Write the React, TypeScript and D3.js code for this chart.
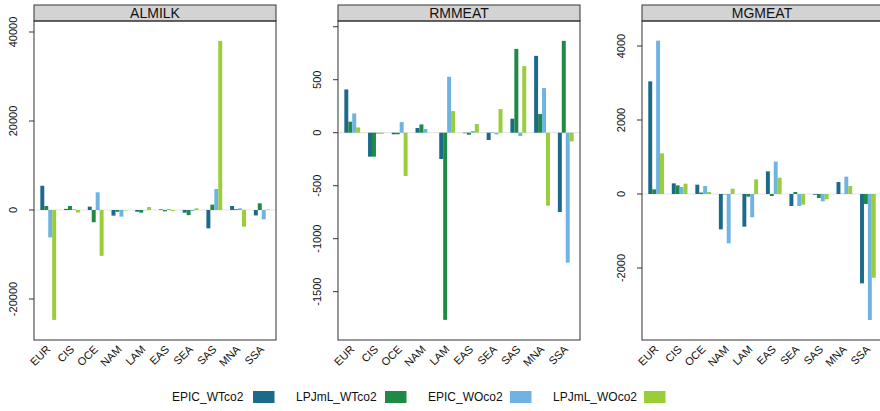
import React from "react";
import * as d3 from "d3";

const regions = ["EUR", "CIS", "OCE", "NAM", "LAM", "EAS", "SEA", "SAS", "MNA", "SSA"];
const seriesNames = ["EPIC_WTco2", "LPJmL_WTco2", "EPIC_WOco2", "LPJmL_WOco2"];
const seriesColors = ["#1b6a8b", "#1e8a45", "#6eb3e2", "#9acd3a"];
const panelNames = ["ALMILK", "RMMEAT", "MGMEAT"];

// values per region: [EPIC_WTco2, LPJmL_WTco2, EPIC_WOco2, LPJmL_WOco2]
const almilk = [
  [5450, 900, -6150, -24700],
  [250, 900, 150, -550],
  [750, -2750, 3970, -10300],
  [-1270, -400, -1500, -100],
  [-380, -600, -50, 670],
  [150, -300, 200, -250],
  [-600, -1150, -250, 380],
  [-4120, 1200, 4720, 38000],
  [900, 180, 380, -3750],
  [-1220, 1500, -2100, 100],
];
const rmmeat = [
  [408, 104, 182, 50],
  [-226, -226, -10, -10],
  [-15, -15, 100, -408],
  [44, 78, 35, 0],
  [-248, -1766, 528, 204],
  [-5, -19, 16, 82],
  [-69, 3, -16, 223],
  [132, 791, -31, 628],
  [725, 176, 421, -688],
  [-748, 867, -1226, -82],
];
const mgmeat = [
  [3045, 126, 4145, 1100],
  [288, 234, 190, 280],
  [252, 40, 216, 54],
  [-955, -10, -1333, 144],
  [-883, -72, -630, 396],
  [612, -54, 874, 441],
  [-324, 54, -324, -288],
  [-20, -108, -198, -144],
  [324, 5, 468, 216],
  [-2415, -270, -3406, -2262],
];
const panelData = [almilk, rmmeat, mgmeat];
const panelTicks = [
  [-20000, 0, 20000, 40000],
  [-1500, -1000, -500, 0, 500, 1000],
  [-2000, 0, 2000, 4000],
];
const hiddenTickLabels = [[], [1000], []];
const panelDomains: [number, number][] = [
  [-29213, 42470],
  [-1956, 1054],
  [-3946, 4676],
];
const panelX: [number, number][] = [
  [34, 276],
  [338, 580],
  [642, 882],
];

const PLOT_TOP = 21;
const PLOT_BOTTOM = 340;
const STRIP_TOP = 5;
const FONT = "Liberation Sans, Arial, Helvetica, sans-serif";

function Panel({ idx }: { idx: number }) {
  const [x0, x1] = panelX[idx];
  const W = x1 - x0;
  const step = W / (regions.length + 0.2);
  const groupW = (step * 2) / 3;
  const barW = groupW / seriesNames.length;
  const y = d3.scaleLinear().domain(panelDomains[idx]).range([PLOT_BOTTOM, PLOT_TOP]);
  const data = panelData[idx];
  const cx = (i: number) => x0 + (0.6 + i) * step;
  const sub = d3
    .scaleBand<number>()
    .domain(d3.range(seriesNames.length))
    .range([-groupW / 2, groupW / 2])
    .padding(0);
  return (
    <g>
      <defs>
        <clipPath id={`clip${idx}`}>
          <rect x={x0} y={PLOT_TOP} width={W} height={PLOT_BOTTOM - PLOT_TOP} />
        </clipPath>
      </defs>
      {/* strip */}
      <rect x={x0} y={STRIP_TOP} width={W} height={PLOT_TOP - STRIP_TOP} fill="#d3d3d3" stroke="#333" strokeWidth={1} />
      <text x={x0 + W / 2} y={PLOT_TOP - 3} textAnchor="middle" fontFamily={FONT} fontSize={14} fill="#111">
        {panelNames[idx]}
      </text>
      <g clipPath={`url(#clip${idx})`}>
        <line x1={x0} x2={x1} y1={y(0)} y2={y(0)} stroke="#e6e6e6" strokeWidth={1.2} />
        {data.map((vals, i) =>
          vals.map((v, s) => (
            <rect
              key={`${i}-${s}`}
              x={cx(i) + (sub(s) as number)}
              width={barW}
              y={Math.min(y(0), y(v))}
              height={Math.abs(y(v) - y(0))}
              fill={seriesColors[s]}
            />
          ))
        )}
      </g>
      <rect x={x0} y={PLOT_TOP} width={W} height={PLOT_BOTTOM - PLOT_TOP} fill="none" stroke="#333" strokeWidth={1} />
      {/* y axis */}
      {panelTicks[idx].map((t) => (
        <g key={t}>
          <line x1={x0 - 5} x2={x0} y1={y(t)} y2={y(t)} stroke="#333" strokeWidth={1} />
          {hiddenTickLabels[idx].includes(t) ? null : (
            <text
              transform={`translate(${x0 - 20},${y(t)}) rotate(-90)`}
              textAnchor="middle"
              dominantBaseline="middle"
              fontFamily={FONT}
              fontSize={11}
              fill="#111"
            >
              {t}
            </text>
          )}
        </g>
      ))}
      {/* x labels */}
      {regions.map((r, i) => (
        <text
          key={r}
          transform={`translate(${cx(i) + 3},${PLOT_BOTTOM + 10}) rotate(-45)`}
          textAnchor="end"
          fontFamily={FONT}
          fontSize={11}
          fill="#111"
        >
          {r}
        </text>
      ))}
    </g>
  );
}

const legendText = [172, 296, 428, 553];
const legendBox = [253, 385, 510, 644];

export default function App() {
  return (
    <svg width={880} height={411} style={{ position: "absolute", left: 0, top: 0, background: "#fff" }}>
      <rect x={0} y={0} width={880} height={411} fill="#fff" />
      {panelNames.map((_, i) => (
        <Panel key={i} idx={i} />
      ))}
      {seriesNames.map((n, i) => (
        <g key={n}>
          <text x={legendText[i]} y={401} fontFamily={FONT} fontSize={12} fill="#111">
            {n}
          </text>
          <rect x={legendBox[i]} y={391} width={21.5} height={12} fill={seriesColors[i]} />
        </g>
      ))}
    </svg>
  );
}
